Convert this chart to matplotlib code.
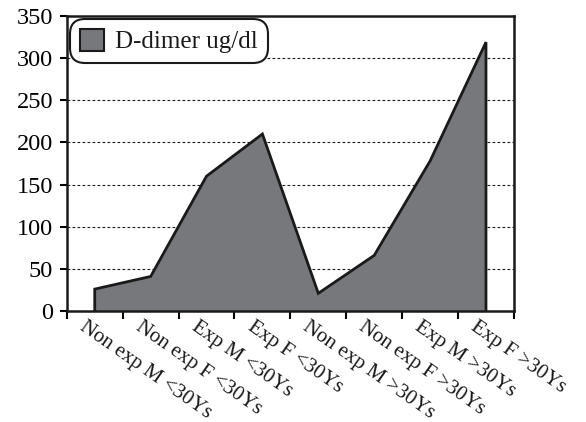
import matplotlib
matplotlib.use("Agg")
import matplotlib.pyplot as plt
import matplotlib.transforms as mtransforms
from matplotlib.patches import Patch
import numpy as np

plt.rcParams['font.family'] = ['Liberation Serif', 'DejaVu Serif']

groups = ['Non exp M <30Ys', 'Non exp F <30Ys', 'Exp M <30Ys', 'Exp F <30Ys',
          'Non exp M >30Ys', 'Non exp F >30Ys', 'Exp M >30Ys', 'Exp F >30Ys']
d_dimer = [26, 41, 160, 210, 21, 66, 178, 319]
y_ticks = [0, 50, 100, 150, 200, 250, 300, 350]

fill_color = '#77787c'
ink = '#1a1a1a'

fig = plt.figure(figsize=(5.86, 4.22), dpi=100)
ax = fig.add_axes([0.114, 0.263, 0.763, 0.699])

x = np.arange(len(groups))
for y in y_ticks[1:-1]:
    ax.axhline(y, color=ink, lw=0.8, ls=(0, (2.5, 2)), zorder=1)

ax.fill_between(x, 0, d_dimer, facecolor=fill_color, edgecolor='none', zorder=2)
# outline of the area, closing down to zero at both ends
ox = np.concatenate([[x[0]], x, [x[-1]]])
oy = np.concatenate([[0], d_dimer, [0]])
ax.plot(ox, oy, color=ink, lw=2, zorder=3, solid_joinstyle='miter')

ax.set_xlim(-0.5, len(groups) - 0.5)
ax.set_ylim(0, 350)
ax.set_yticks(y_ticks)
ax.tick_params(axis='y', direction='out', length=5, width=1.5, labelsize=17.5, pad=5)

ax.set_xticks(np.arange(-0.5, len(groups), 1.0))
ax.set_xticklabels([])
ax.tick_params(axis='x', direction='out', length=6, width=1.5)

# slanted category labels, hung just left of each category centre
label_tf = ax.get_xaxis_transform() + mtransforms.ScaledTranslation(-0.08, -0.06, fig.dpi_scale_trans)
for xi, name in zip(x, groups):
    ax.text(xi, 0, name, transform=label_tf, rotation=-35, rotation_mode='anchor',
            ha='left', va='top', fontsize=15, color=ink)

for s in ax.spines.values():
    s.set_linewidth(1.8)
    s.set_color(ink)

handle = Patch(facecolor=fill_color, edgecolor=ink, lw=1.5)
leg = ax.legend([handle], ['D-dimer ug/dl'], loc='upper left', fontsize=18,
                frameon=True, fancybox=True, framealpha=1, edgecolor=ink,
                handlelength=0.95, handleheight=0.95, borderpad=0.4, handletextpad=0.45,
                borderaxespad=0.12, bbox_to_anchor=(0.0, 1.0))
leg.get_frame().set_linewidth(1.5)
leg.get_frame().set_boxstyle('round,pad=0,rounding_size=0.6')
leg.set_zorder(5)
for t in leg.get_texts():
    t.set_color(ink)

fig.savefig('out.png', dpi=100)
